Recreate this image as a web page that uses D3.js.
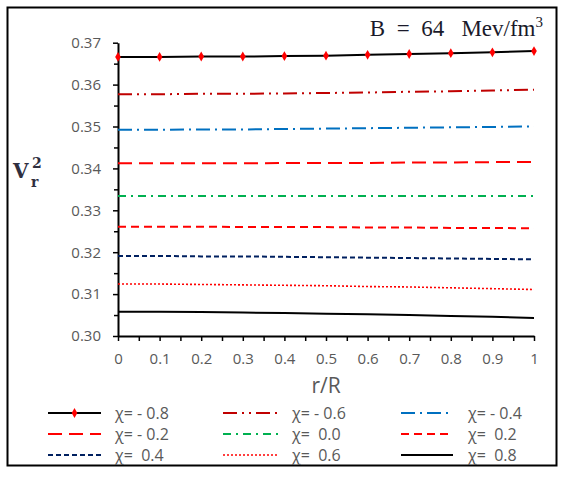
<!DOCTYPE html>
<html>
<head>
<meta charset="utf-8">
<script src="https://cdn.jsdelivr.net/npm/d3@7"></script>
<style>
  body { margin: 0; background: #fff; }
  svg text { font-family: "Open Sans", "Noto Sans", sans-serif; white-space: pre; }
</style>
</head>
<body>
<div id="chart-area"></div>
<script>
// r/R sample points
var rR = [0, 0.1, 0.2, 0.3, 0.4, 0.5, 0.6, 0.7, 0.8, 0.9, 1];

// v_r^2 for each chi value
var chiM08 = [0.3666, 0.3666, 0.3667, 0.3667, 0.3668, 0.3669, 0.3671, 0.3673, 0.3675, 0.3677, 0.3680];
var chiM06 = [0.3577, 0.3577, 0.3578, 0.3578, 0.3579, 0.3580, 0.3581, 0.3583, 0.3584, 0.3586, 0.3588];
var chiM04 = [0.3492, 0.3492, 0.3493, 0.3493, 0.3494, 0.3495, 0.3496, 0.3497, 0.3498, 0.3499, 0.3500];
var chiM02 = [0.3412, 0.3412, 0.3412, 0.3412, 0.3413, 0.3413, 0.3413, 0.3414, 0.3414, 0.3415, 0.3415];
var chi00  = [0.3334, 0.3334, 0.3334, 0.3334, 0.3334, 0.3334, 0.3334, 0.3334, 0.3334, 0.3334, 0.3334];
var chiP02 = [0.3261, 0.3261, 0.3261, 0.3260, 0.3260, 0.3260, 0.3259, 0.3259, 0.3258, 0.3258, 0.3257];
var chiP04 = [0.3191, 0.3191, 0.3190, 0.3190, 0.3189, 0.3188, 0.3187, 0.3186, 0.3185, 0.3184, 0.3183];
var chiP06 = [0.3124, 0.3124, 0.3123, 0.3122, 0.3121, 0.3120, 0.3118, 0.3117, 0.3115, 0.3113, 0.3111];
var chiP08 = [0.3058, 0.3058, 0.3057, 0.3056, 0.3055, 0.3053, 0.3052, 0.3050, 0.3048, 0.3046, 0.3043];

var seriesNames = ["χ= - 0.8", "χ= - 0.6", "χ= - 0.4", "χ= - 0.2", "χ=  0.0", "χ=  0.2", "χ=  0.4", "χ=  0.6", "χ=  0.8"];
var xTicks = [0, 0.1, 0.2, 0.3, 0.4, 0.5, 0.6, 0.7, 0.8, 0.9, 1];
var yTicks = [0.30, 0.31, 0.32, 0.33, 0.34, 0.35, 0.36, 0.37];

// line styles per series (same order as seriesNames)
var styles = [
    {color: "#000000", dash: null, width: 2, marker: true},
    {color: "#c00000", dash: "14,5,2,5,2,5", width: 2},
    {color: "#0070c0", dash: "14,5,2,5", width: 2},
    {color: "#ff0000", dash: "14,7", width: 2},
    {color: "#00b050", dash: "8,5,2,5", width: 2},
    {color: "#ff0000", dash: "8,5", width: 2},
    {color: "#002060", dash: "5,3", width: 2},
    {color: "#ff0000", dash: "2,2", width: 1.6},
    {color: "#000000", dash: null, width: 2}
];

var allValues = [chiM08, chiM06, chiM04, chiM02, chi00, chiP02, chiP04, chiP06, chiP08];

const svgWidth = 570;
const svgHeight = 480;
var margin = {left: 118, top: 42.7, right: 36, bottom: 144};
var chartWidth = 534 - margin.left,
    chartHeight = 336 - margin.top;

var svg = d3.select("#chart-area")
    .append("svg")
    .attr("width", svgWidth)
    .attr("height", svgHeight);

// outer border
svg.append("rect")
    .attr("x", 7.5).attr("y", 7.5)
    .attr("width", 549).attr("height", 458)
    .attr("fill", "none")
    .attr("stroke", "#000")
    .attr("stroke-width", 2);

var g = svg.append("g")
    .attr("transform", "translate(" + margin.left + "," + margin.top + ")");

var x = d3.scaleLinear().domain([0, 1]).range([0, chartWidth]);
var y = d3.scaleLinear().domain([0.30, 0.37]).range([chartHeight, 0]);

// minor ticks
var xMinor = d3.range(0.05, 1, 0.1);
var yMinor = d3.range(0.305, 0.37, 0.01);
g.append("g")
    .attr("transform", "translate(0," + chartHeight + ")")
    .call(d3.axisBottom(x).tickValues(xMinor).tickSize(5).tickFormat(""))
    .call(function(a){ a.select(".domain").remove(); a.selectAll("line").attr("stroke", "#000").attr("stroke-width", 1.5); });
g.append("g")
    .call(d3.axisLeft(y).tickValues(yMinor).tickSize(4).tickFormat(""))
    .call(function(a){ a.select(".domain").remove(); a.selectAll("line").attr("stroke", "#000").attr("stroke-width", 1.5); });

// x axis
var xAxis = g.append("g")
    .attr("transform", "translate(0," + chartHeight + ")")
    .call(d3.axisBottom(x).tickValues(xTicks).tickSize(5).tickSizeOuter(0).tickPadding(12)
        .tickFormat(function(d){ return d === 0 || d === 1 ? d : d3.format(".1f")(d); }));
xAxis.select(".domain").attr("stroke", "#000").attr("stroke-width", 2);
xAxis.selectAll("line").attr("stroke", "#000").attr("stroke-width", 1.5);
xAxis.selectAll("text").attr("font-size", "15px").attr("fill", "#595959");

// y axis
var yAxis = g.append("g")
    .call(d3.axisLeft(y).tickValues(yTicks).tickSize(5).tickSizeOuter(0).tickPadding(12)
        .tickFormat(d3.format(".2f")));
yAxis.select(".domain").attr("stroke", "#000").attr("stroke-width", 2);
yAxis.selectAll("line").attr("stroke", "#000").attr("stroke-width", 1.5);
yAxis.selectAll("text").attr("font-size", "15px").attr("fill", "#595959");

// lines
var line = d3.line()
    .x(function(d){ return x(d[0]); })
    .y(function(d){ return y(d[1]); });

allValues.forEach(function(vals, i){
    var pts = rR.map(function(r, j){ return [r, vals[j]]; });
    var st = styles[i];
    g.append("path")
        .datum(pts)
        .attr("fill", "none")
        .attr("stroke", st.color)
        .attr("stroke-width", st.width)
        .attr("stroke-dasharray", st.dash)
        .attr("d", line);
    if (st.marker) {
        g.selectAll(".mk")
            .data(pts)
            .enter().append("path")
            .attr("transform", function(d){ return "translate(" + x(d[0]) + "," + y(d[1]) + ")"; })
            .attr("d", d3.symbol().type(d3.symbolDiamond).size(28))
            .attr("fill", "#ff0000");
    }
});

// axis titles
svg.append("text")
    .attr("x", 326).attr("y", 393)
    .attr("text-anchor", "middle")
    .attr("font-size", "21px")
    .attr("fill", "#595959")
    .text("r/R");

// V_r^2 as three pieces
var serif = "'DejaVu Serif', serif";
svg.append("text").attr("x", 13).attr("y", 178)
    .style("font-family", serif).attr("font-weight", "bold")
    .attr("font-size", "20px").attr("fill", "#2f2f3f").text("V");
svg.append("text").attr("x", 31).attr("y", 187)
    .style("font-family", serif).attr("font-weight", "bold")
    .attr("font-size", "14px").attr("fill", "#2f2f3f").text("r");
svg.append("text").attr("x", 32).attr("y", 168)
    .style("font-family", serif).attr("font-weight", "bold")
    .attr("font-size", "14px").attr("fill", "#2f2f3f").text("2");

// B label
var bt = svg.append("text")
    .attr("x", 543).attr("y", 36)
    .attr("text-anchor", "end")
    .attr("fill", "#1a1a2a")
    .style("font-family", "'Liberation Serif', serif")
    .attr("font-size", "23px");
bt.append("tspan").text("B  =  64   Mev/fm");
bt.append("tspan").attr("font-size", "15px").attr("dy", -9).text("3");

// legend
var legCols = [[48, 101, 115], [223, 278, 292], [401, 453, 468]];
var legRows = [413, 434, 455];
seriesNames.forEach(function(name, i){
    var col = legCols[i % 3], row = legRows[Math.floor(i / 3)];
    var st = styles[i];
    svg.append("line")
        .attr("x1", col[0]).attr("x2", col[1])
        .attr("y1", row).attr("y2", row)
        .attr("stroke", st.color)
        .attr("stroke-width", st.width)
        .attr("stroke-dasharray", st.dash);
    if (st.marker) {
        svg.append("path")
            .attr("transform", "translate(" + ((col[0] + col[1]) / 2) + "," + row + ")")
            .attr("d", d3.symbol().type(d3.symbolDiamond).size(28))
            .attr("fill", "#ff0000");
    }
    svg.append("text")
        .attr("x", col[2]).attr("y", row)
        .attr("dy", "0.35em")
        .attr("font-size", "16px")
        .attr("fill", "#595959")
        .text(name);
});
</script>
</body>
</html>
